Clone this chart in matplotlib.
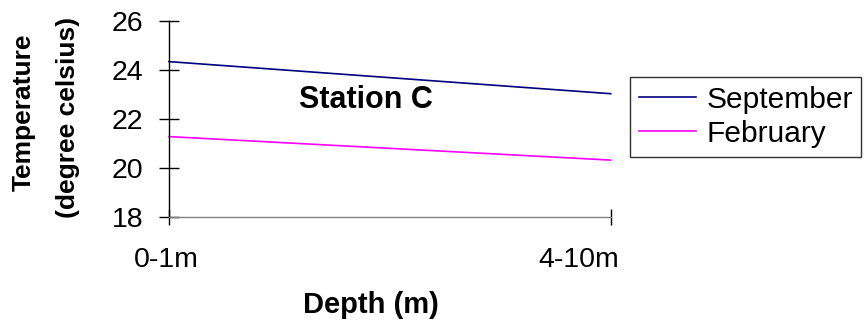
import matplotlib
matplotlib.use("Agg")
import matplotlib.pyplot as plt
import matplotlib.transforms as mtransforms

plt.rcParams['font.family'] = ['Liberation Sans', 'DejaVu Sans']

# profondeurs et températures (degrés Celsius), station C
profondeurs = ["0-1m", "4-10m"]
temp_septembre = [24.33, 23.02]
temp_fevrier = [21.27, 20.31]
mois = ["September", "February"]
graduations_y = [18, 20, 22, 24, 26]

fig = plt.figure(figsize=(8.67, 3.2), dpi=100)
ax = fig.add_axes([0.1949, 0.3228, 0.5095, 0.6125])

x = list(range(len(profondeurs)))
ax.plot(x, temp_septembre, color="#000080", lw=1.2, label=mois[0], clip_on=False)
ax.plot(x, temp_fevrier, color="#FF00FF", lw=1.2, label=mois[1], clip_on=False)

ax.set_xlim(0, 1)
ax.set_ylim(18, 26)
ax.set_yticks(graduations_y)
ax.set_xticks(x)
ax.set_xticklabels(profondeurs)

for cote in ["top", "right"]:
    ax.spines[cote].set_visible(False)
ax.spines["left"].set_color("black")
ax.spines["bottom"].set_color("#808080")
ax.spines["left"].set_linewidth(1)
ax.spines["bottom"].set_linewidth(1)

ax.tick_params(axis="y", direction="inout", length=15, width=1, color="black",
               labelsize=20.5, pad=11)
ax.tick_params(axis="x", direction="inout", length=12, width=1, color="black",
               labelsize=20.5, pad=15.5)

# décalage horizontal des étiquettes de l'axe x
decalages = [-3, -32]
for lab, dx in zip(ax.get_xticklabels(), decalages):
    lab.set_transform(lab.get_transform() +
                      mtransforms.ScaledTranslation(dx / 100, 0, fig.dpi_scale_trans))

ax.text(366 / 867, 1 - 100 / 320, "Station C", transform=fig.transFigure,
        ha="center", va="center", fontsize=22, fontweight="bold")

fig.text(371 / 867, 1 - 305 / 320, "Depth (m)", ha="center", va="center",
         fontsize=21, fontweight="bold")
fig.text(24 / 867, 1 - 112 / 320, "Temperature", rotation=90, ha="center",
         va="center", fontsize=19, fontweight="bold")
fig.text(68 / 867, 1 - 117 / 320, "(degree celsius)", rotation=90, ha="center",
         va="center", fontsize=19, fontweight="bold")

leg = ax.legend(loc="upper left", bbox_to_anchor=(630 / 867, 1 - 76.7 / 320),
                bbox_transform=fig.transFigure, borderaxespad=0, fontsize=21.5,
                frameon=True, fancybox=False, handlelength=1.9,
                handletextpad=0.35, labelspacing=0.2, borderpad=0.3)
leg.get_frame().set_edgecolor("black")
leg.get_frame().set_linewidth(1)

fig.savefig("out.png", dpi=100)
